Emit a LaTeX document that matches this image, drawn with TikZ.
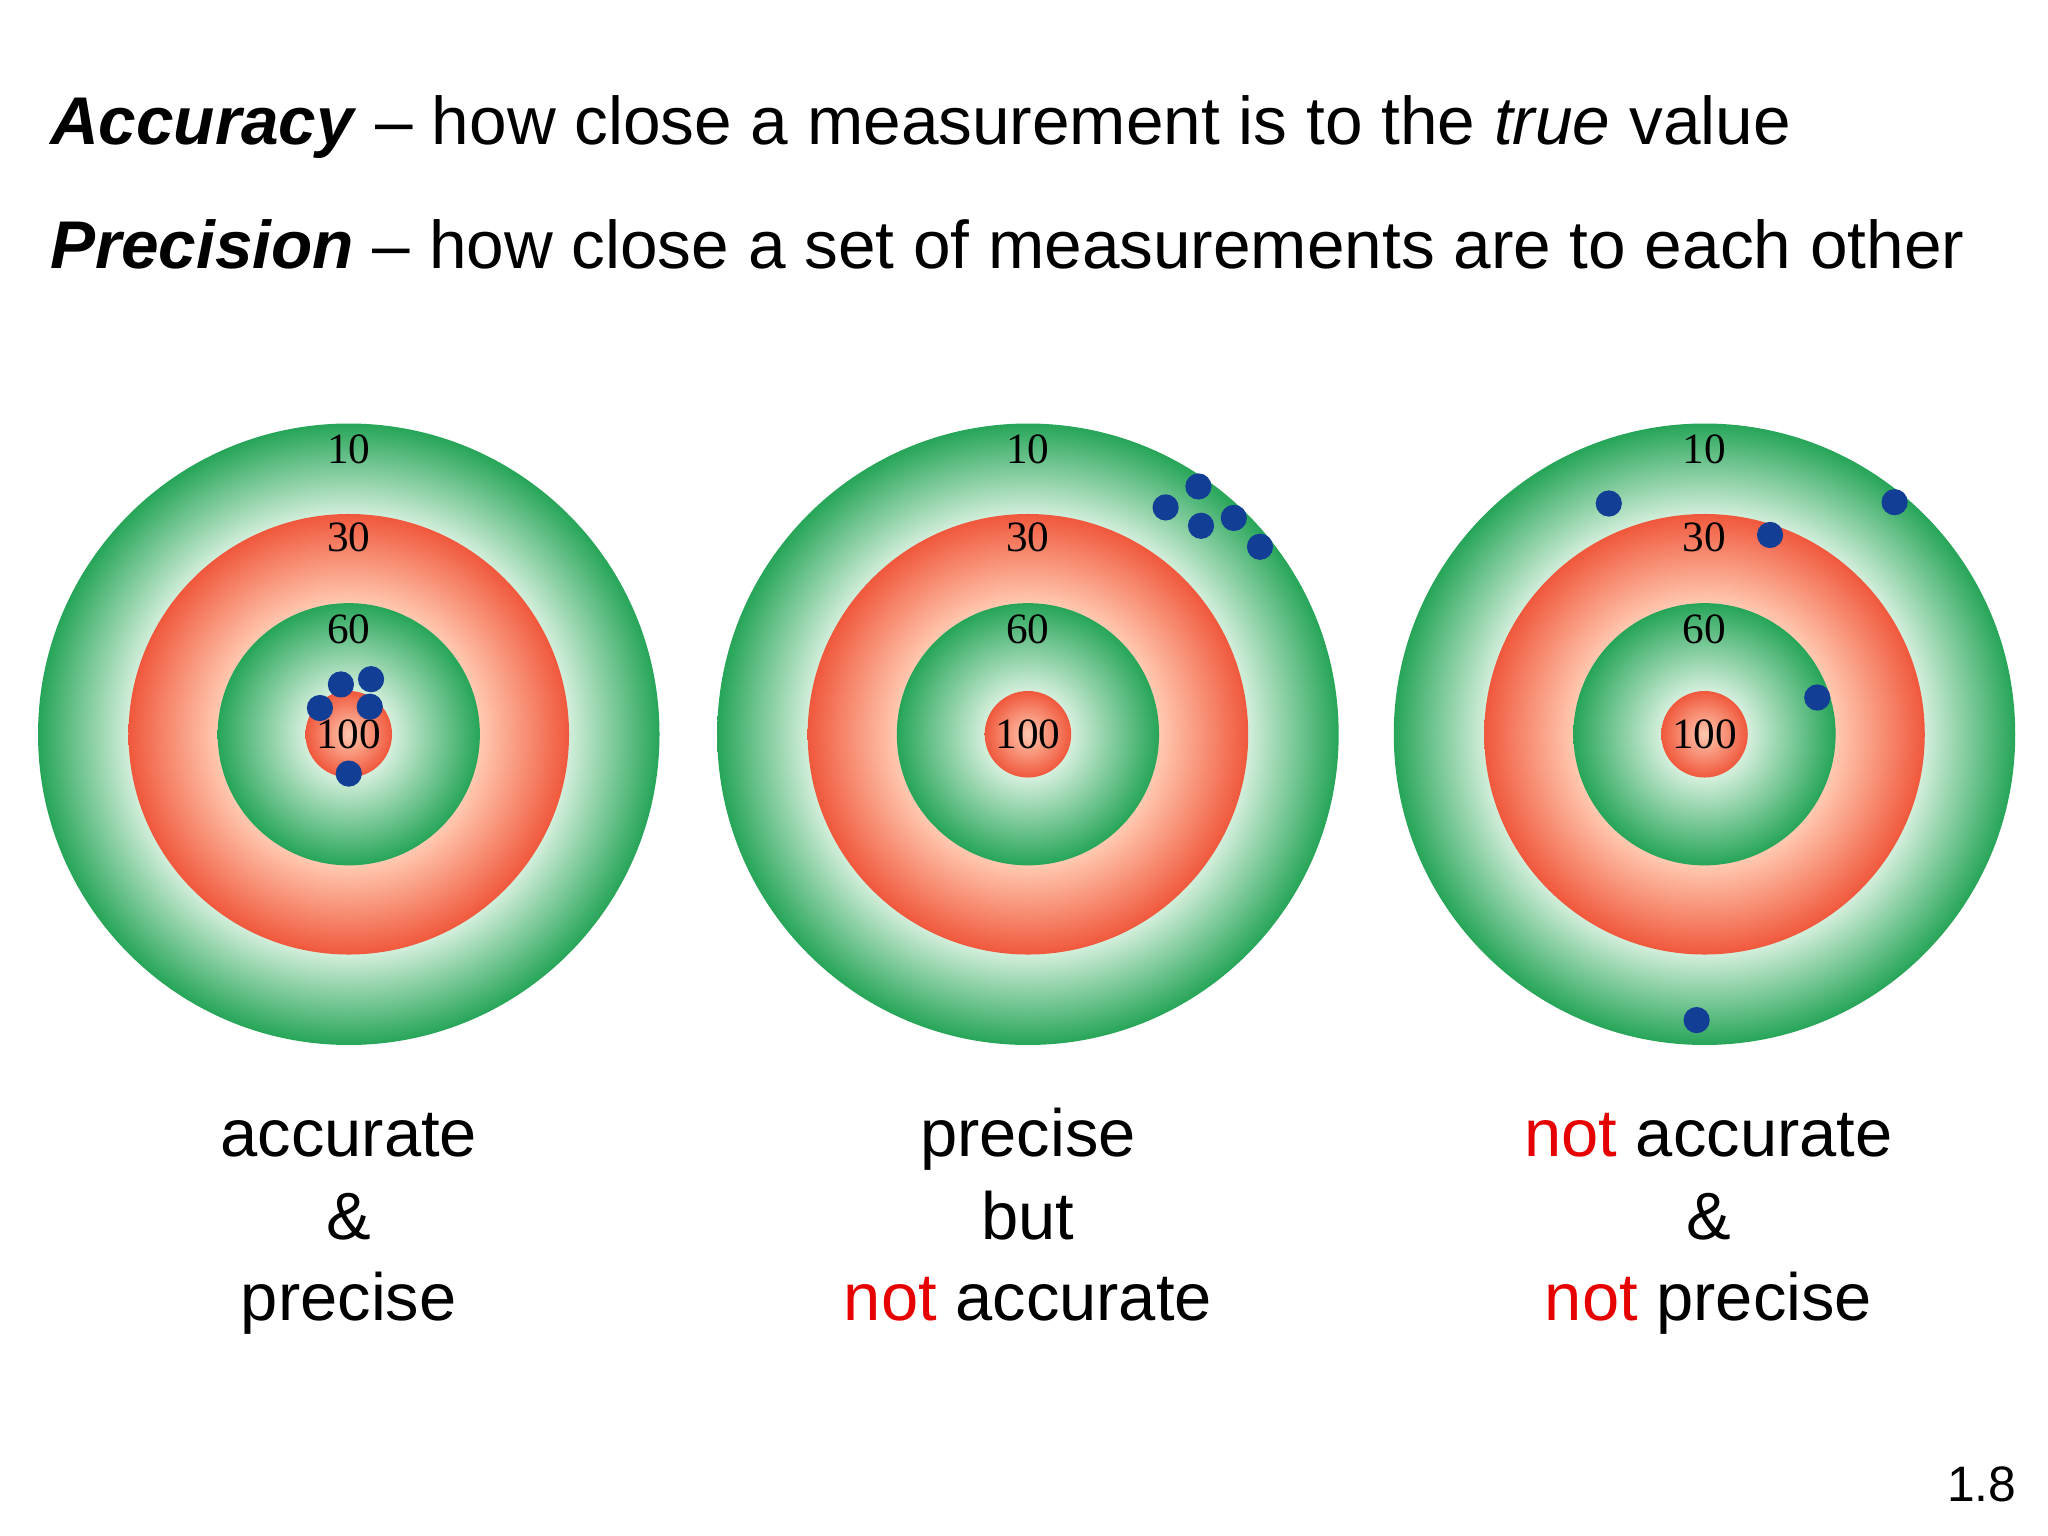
\documentclass[tikz,border=0pt]{standalone}
\usepackage{fontspec}
\setmainfont{Liberation Serif}
\newfontfamily\sans{Liberation Sans}
\definecolor{gdark}{RGB}{38,165,88}
\definecolor{glight}{RGB}{215,240,222}
\definecolor{rdark}{RGB}{240,88,60}
\definecolor{rlight}{RGB}{255,200,175}
\definecolor{dotblue}{RGB}{18,62,150}
\definecolor{notred}{RGB}{230,0,0}
\pgfdeclareradialshading{gouter}{\pgfpoint{0bp}{0bp}}{color(0bp)=(glight); color(17.5bp)=(glight); color(25bp)=(gdark); color(50bp)=(gdark)}
\pgfdeclareradialshading{rring}{\pgfpoint{0bp}{0bp}}{color(0bp)=(rlight); color(15bp)=(rlight); color(25bp)=(rdark); color(50bp)=(rdark)}
\pgfdeclareradialshading{ginner}{\pgfpoint{0bp}{0bp}}{color(0bp)=(glight); color(8bp)=(glight); color(25bp)=(gdark); color(50bp)=(gdark)}
\pgfdeclareradialshading{bull}{\pgfpoint{0bp}{0bp}}{color(0bp)=(rlight); color(25bp)=(rdark); color(50bp)=(rdark)}
\tikzset{
 num/.style={font=\fontsize{33}{33}\selectfont},
 dot/.style={circle,fill=dotblue,inner sep=0pt,minimum size=20pt},
 lab/.style={anchor=base,font=\sans\fontsize{51}{51}\selectfont},
 ttl/.style={anchor=base west,inner sep=0pt,font=\sans\fontsize{51.5}{51.5}\selectfont}
}
\newcommand\target[2]{%
 \shade[shading=gouter] (#1,#2) circle (237);
 \shade[shading=rring] (#1,#2) circle (168);
 \shade[shading=ginner] (#1,#2) circle (100);
 \shade[shading=bull] (#1,#2) circle (33);
 \node[num] at (#1,#2-217) {10};
 \node[num] at (#1,#2-150) {30};
 \node[num] at (#1,#2-80) {60};
 \node[num] at (#1,#2) {100};
}
\begin{document}
\begin{tikzpicture}[x=1pt,y=-1pt]
\useasboundingbox[fill=white] (0,0) rectangle (1562,1171);
\node[ttl] (t1) at (38,110) {\textbf{\textit{Accuracy}} – how close a measurement is to the \textit{true} value};
\node[ttl] (t2) at (38,205) {\textbf{\textit{Precision}} – how close a set of measurements are to each other};
\target{266}{560}
\target{784}{560}
\target{1300}{560}
\foreach \p [count=\i] in {(260,522),(283,518),(244,540),(282,539),(266,590),
 (889,387),(914,371),(916,401),(941,395),(961,417),
 (1227,384),(1445,383),(1350,408),(1386,532),(1294,778)}
 \node[dot] (d\i) at \p {};
\node[lab] (a1) at (266,882) {accurate};
\node[lab] (a2) at (266,945) {\&};
\node[lab] (a3) at (266,1007) {precise};
\node[lab] (b1) at (784,882) {precise};
\node[lab] (b2) at (784,945) {but};
\node[lab] (b3) at (784,1007) {\textcolor{notred}{not} accurate};
\node[lab] (c1) at (1303,882) {\textcolor{notred}{not} accurate};
\node[lab] (c2) at (1303,945) {\&};
\node[lab] (c3) at (1303,1007) {\textcolor{notred}{not} precise};
\node[anchor=base east,inner sep=0pt,font=\sans\fontsize{38}{38}\selectfont] (pg) at (1538,1145) {1.8};
\end{tikzpicture}
\end{document}
